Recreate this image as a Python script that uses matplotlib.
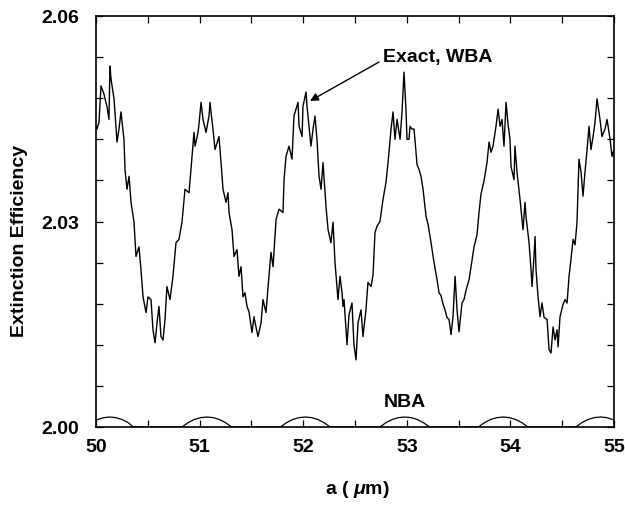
import numpy as np
import matplotlib
matplotlib.use("Agg")
import matplotlib.pyplot as plt
from matplotlib.ticker import FuncFormatter

# ---- data ----
exact_x = [
    50.000, 50.010, 50.029, 50.048, 50.077, 50.087, 50.106, 50.125, 50.135, 50.145,
    50.174, 50.203, 50.222, 50.241, 50.270, 50.280, 50.299, 50.319, 50.338, 50.367,
    50.386, 50.415, 50.434, 50.454, 50.483, 50.502, 50.531, 50.550, 50.570, 50.589,
    50.608, 50.627, 50.647, 50.666, 50.685, 50.714, 50.743, 50.772, 50.801, 50.830,
    50.859, 50.898, 50.927, 50.946, 50.956, 50.985, 50.994,
    51.014, 51.033, 51.062, 51.091, 51.100, 51.129, 51.149, 51.187, 51.207, 51.226,
    51.255, 51.274, 51.284, 51.313, 51.332, 51.361, 51.380, 51.400, 51.419, 51.438,
    51.458, 51.477, 51.506, 51.525, 51.544, 51.564, 51.593, 51.612, 51.641, 51.660,
    51.689, 51.709, 51.738, 51.767, 51.805, 51.815, 51.834, 51.863, 51.892, 51.911,
    51.950, 51.960, 51.989, 51.998,
    52.027, 52.037, 52.075, 52.095, 52.114, 52.133, 52.153, 52.172, 52.191, 52.220,
    52.240, 52.268, 52.288, 52.307, 52.336, 52.355, 52.375, 52.384, 52.394, 52.423,
    52.442, 52.471, 52.490, 52.510, 52.529, 52.558, 52.577, 52.606, 52.625, 52.655,
    52.674, 52.693, 52.712, 52.741, 52.770, 52.799, 52.819, 52.848, 52.867, 52.886,
    52.906, 52.935, 52.954,
    52.973, 52.992, 53.002, 53.021, 53.031, 53.050, 53.070, 53.099, 53.118, 53.137,
    53.157, 53.186, 53.205, 53.234, 53.263, 53.292, 53.311, 53.330, 53.350, 53.369,
    53.388, 53.408, 53.427, 53.446, 53.466, 53.485, 53.504, 53.533, 53.552, 53.572,
    53.601, 53.630, 53.649, 53.678, 53.697, 53.716, 53.745, 53.774, 53.794, 53.813,
    53.832, 53.861, 53.881, 53.900, 53.919, 53.938, 53.958, 53.977, 53.996, 54.006,
    54.035, 54.044, 54.064, 54.093, 54.112, 54.122, 54.141, 54.151, 54.180, 54.199,
    54.209, 54.228, 54.238, 54.247, 54.267, 54.286, 54.305, 54.325, 54.354, 54.373,
    54.392, 54.412, 54.431, 54.450, 54.460, 54.479, 54.508, 54.527, 54.547, 54.566,
    54.595, 54.605, 54.624, 54.643, 54.662, 54.682, 54.701, 54.720, 54.740, 54.759,
    54.778, 54.798, 54.817, 54.836, 54.865, 54.884, 54.913, 54.933, 54.962, 54.981,
    55.000,
]
exact_y = [
    2.0439, 2.0435, 2.0445, 2.0498, 2.0486, 2.0479, 2.0468, 2.0449, 2.0527, 2.0508,
    2.0479, 2.0416, 2.0435, 2.0460, 2.0420, 2.0376, 2.0347, 2.0366, 2.0328, 2.0299,
    2.0249, 2.0263, 2.0230, 2.0190, 2.0167, 2.0190, 2.0186, 2.0142, 2.0123, 2.0152,
    2.0176, 2.0132, 2.0127, 2.0157, 2.0205, 2.0186, 2.0220, 2.0269, 2.0274, 2.0299,
    2.0347, 2.0342, 2.0395, 2.0430, 2.0410, 2.0430, 2.0442,
    2.0474, 2.0449, 2.0430, 2.0454, 2.0474, 2.0435, 2.0405, 2.0424, 2.0386, 2.0347,
    2.0328, 2.0342, 2.0313, 2.0288, 2.0249, 2.0259, 2.0220, 2.0234, 2.0190, 2.0196,
    2.0176, 2.0168, 2.0138, 2.0161, 2.0146, 2.0132, 2.0152, 2.0186, 2.0167, 2.0203,
    2.0255, 2.0234, 2.0303, 2.0318, 2.0313, 2.0361, 2.0395, 2.0410, 2.0391, 2.0454,
    2.0474, 2.0439, 2.0424, 2.0468,
    2.0489, 2.0468, 2.0410, 2.0435, 2.0454, 2.0420, 2.0366, 2.0347, 2.0386, 2.0322,
    2.0288, 2.0269, 2.0299, 2.0240, 2.0186, 2.0220, 2.0196, 2.0176, 2.0186, 2.0120,
    2.0164, 2.0181, 2.0120, 2.0098, 2.0152, 2.0171, 2.0132, 2.0171, 2.0211, 2.0205,
    2.0222, 2.0284, 2.0293, 2.0300, 2.0332, 2.0357, 2.0386, 2.0435, 2.0460, 2.0420,
    2.0449, 2.0420, 2.0460,
    2.0518, 2.0464, 2.0420, 2.0420, 2.0439, 2.0435, 2.0435, 2.0383, 2.0376, 2.0366,
    2.0347, 2.0307, 2.0296, 2.0269, 2.0240, 2.0215, 2.0196, 2.0192, 2.0179, 2.0171,
    2.0160, 2.0157, 2.0135, 2.0161, 2.0220, 2.0171, 2.0139, 2.0181, 2.0186, 2.0200,
    2.0215, 2.0244, 2.0263, 2.0281, 2.0313, 2.0340, 2.0359, 2.0386, 2.0416, 2.0401,
    2.0410, 2.0439, 2.0464, 2.0439, 2.0449, 2.0410, 2.0474, 2.0442, 2.0420, 2.0380,
    2.0361, 2.0410, 2.0372, 2.0332, 2.0303, 2.0288, 2.0328, 2.0307, 2.0269, 2.0230,
    2.0205, 2.0249, 2.0278, 2.0230, 2.0190, 2.0161, 2.0181, 2.0160, 2.0157, 2.0113,
    2.0108, 2.0146, 2.0127, 2.0142, 2.0117, 2.0161, 2.0179, 2.0186, 2.0181, 2.0220,
    2.0259, 2.0274, 2.0266, 2.0299, 2.0391, 2.0372, 2.0337, 2.0372, 2.0405, 2.0439,
    2.0405, 2.0424, 2.0445, 2.0479, 2.0449, 2.0424, 2.0435, 2.0449, 2.0420, 2.0395,
    2.0405,
]

nba_x = [
    50.00, 50.07, 50.13, 50.19, 50.25, 50.31, 50.36,
    50.83, 50.89, 50.95, 51.01, 51.07, 51.13, 51.19, 51.25, 51.31,
    51.78, 51.84, 51.90, 51.96, 52.02, 52.08, 52.14, 52.20, 52.26,
    52.74, 52.80, 52.86, 52.92, 52.98, 53.04, 53.10, 53.16, 53.22,
    53.69, 53.75, 53.81, 53.87, 53.93, 53.99, 54.05, 54.11, 54.17,
    54.63, 54.69, 54.75, 54.81, 54.87, 54.93, 55.00,
]
nba_y = [
    2.00102, 2.00135, 2.00146, 2.00137, 2.00110, 2.00064, 2.00000,
    2.00000, 2.00064, 2.00110, 2.00137, 2.00146, 2.00137, 2.00110, 2.00064, 2.00000,
    2.00000, 2.00064, 2.00110, 2.00137, 2.00146, 2.00137, 2.00110, 2.00064, 2.00000,
    2.00000, 2.00064, 2.00110, 2.00137, 2.00146, 2.00137, 2.00110, 2.00064, 2.00000,
    2.00000, 2.00064, 2.00110, 2.00137, 2.00146, 2.00137, 2.00110, 2.00064, 2.00000,
    2.00000, 2.00064, 2.00110, 2.00137, 2.00146, 2.00137, 2.00102,
]

x_labels = [50, 51, 52, 53, 54, 55]
y_labels = [2.00, 2.03, 2.06]

plt.rcParams['font.family'] = ['Liberation Sans', 'DejaVu Sans']
plt.rcParams['font.weight'] = 'bold'
plt.rcParams['mathtext.fontset'] = 'custom'
plt.rcParams['mathtext.it'] = 'Liberation Sans:italic:bold'
plt.rcParams['mathtext.rm'] = 'Liberation Sans:bold'

fig = plt.figure(figsize=(6.25, 5.06), dpi=100)
ax = fig.add_axes([96/625, 1-428/506, (614-96)/625, (428-17)/506])

ax.plot(exact_x, exact_y, color='black', lw=1.0)
ax.plot(nba_x, nba_y, color='black', lw=0.9)

ax.set_xlim(50, 55)
ax.set_ylim(2.00, 2.06)

ax.set_xticks([50 + 0.5 * i for i in range(11)])
ax.set_yticks([2.00 + 0.006 * i for i in range(11)])

def xfmt(v, pos):
    for t in x_labels:
        if abs(v - t) < 1e-6:
            return f"{t:d}"
    return ""

def yfmt(v, pos):
    for t in y_labels:
        if abs(v - t) < 1e-6:
            return f"{t:.2f}"
    return ""

ax.xaxis.set_major_formatter(FuncFormatter(xfmt))
ax.yaxis.set_major_formatter(FuncFormatter(yfmt))

ax.tick_params(axis='both', which='major', direction='in', length=5, width=0.9,
               top=True, right=True, labelsize=14)
ax.tick_params(axis='x', pad=8)
ax.tick_params(axis='y', pad=12)
for lab in ax.get_xticklabels() + ax.get_yticklabels():
    lab.set_fontweight('bold')
for s in ax.spines.values():
    s.set_linewidth(1.2)

fig.text(20/625, 1-241/506, 'Extinction Efficiency', rotation=90, ha='center', va='center',
         fontsize=14, fontweight='bold')
fig.text(357/625, 1-490/506, r'a ( $\mu$m)', ha='center', va='center',
         fontsize=14, fontweight='bold')

ax.annotate('Exact, WBA', xy=(52.066, 2.0476), xytext=(52.77, 2.0541),
            ha='left', va='center', fontsize=14, fontweight='bold',
            arrowprops=dict(arrowstyle='-|>', color='black', lw=1.0,
                            shrinkA=1, shrinkB=0, mutation_scale=12,
                            relpos=(0.0, 0.3)))
ax.text(52.983, 2.0037, 'NBA', ha='center', va='center', fontsize=14, fontweight='bold')

fig.savefig('out.png', dpi=100)
